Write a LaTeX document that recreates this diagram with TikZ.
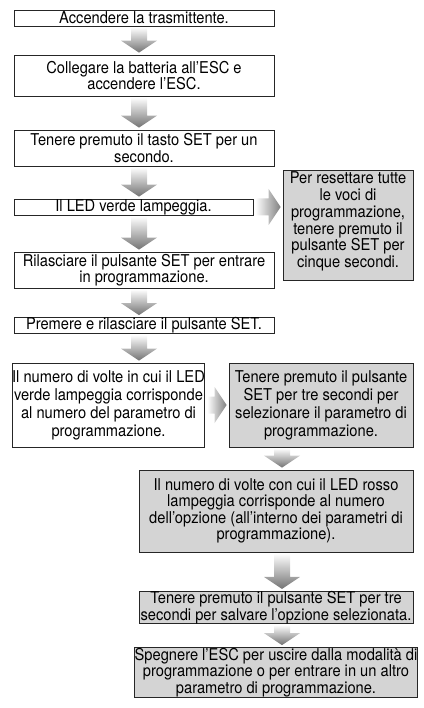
\documentclass[tikz,border=0pt]{standalone}
\usepackage{fontspec}
\setmainfont{TeX Gyre Heros}[FakeStretch=0.9]
\usetikzlibrary{calc}
\newcommand\vflow[3]{%
 \shade[top color=white,bottom color=black!55] let \p1=(#2.south), \p2=(#3.north) in
 ({#1pt-8pt},{\y1-1pt}) -- ({#1pt+8pt},{\y1-1pt}) -- ({#1pt+8pt},{\y2+14pt}) -- ({#1pt+18pt},{\y2+14pt}) -- ({#1pt},{\y2+2pt}) -- ({#1pt-18pt},{\y2+14pt}) -- ({#1pt-8pt},{\y2+14pt}) -- cycle;}
\newcommand\hflow[2]{%
 \shade[left color=white,right color=black!50] let \p1=(#1.east), \p2=(#2.west) in
 ({\x1+2pt},{\y1+8.5pt}) -- ({\x1+2pt},{\y1-8.5pt}) -- ({\x2-14pt},{\y1-8.5pt}) -- ({\x2-14pt},{\y1-18pt}) -- ({\x2-2pt},{\y1}) -- ({\x2-14pt},{\y1+18pt}) -- ({\x2-14pt},{\y1+8.5pt}) -- cycle;}
\begin{document}
\begin{tikzpicture}[x=1pt,y=-1pt,
 txt/.style={inner sep=0pt, align=center, font=\fontsize{16.3pt}{16.5pt}\selectfont},
 box/.style={txt, draw=black!85, line width=0.8pt, fill=white},
 gbox/.style={box, fill=black!17},
 tall/.style={font=\fontsize{16.3pt}{18pt}\selectfont}]
\useasboundingbox (0,0) rectangle (423,708);
\node[box, minimum width=260pt, minimum height=16pt] (b1) at (144,18) {Accendere la trasmittente.};
\node[box, minimum width=260pt, minimum height=41pt] (b2) at (144,75.5) {Collegare la batteria all’ESC e\\ accendere l’ESC.};
\node[box, minimum width=260pt, minimum height=36pt] (b3) at (144,148) {Tenere premuto il tasto SET per un\\ secondo.};
\node[box, minimum width=239pt, minimum height=16pt] (b4) at (133.5,207) {Il LED verde lampeggia.};
\node[gbox, minimum width=130pt, minimum height=110pt] (side) at (348,225) {};
\node[txt, font=\fontsize{16.3pt}{16.8pt}\selectfont] (sidetext) at (348,221.5) {Per resettare tutte\\ le voci di\\ programmazione,\\ tenere premuto il\\ pulsante SET per\\ cinque secondi.};
\node[box, minimum width=260pt, minimum height=36pt] (b5) at (144,270) {Rilasciare il pulsante SET per entrare\\ in programmazione.};
\node[box, minimum width=260pt, minimum height=16pt] (b6) at (144,325.5) {Premere e rilasciare il pulsante SET.};
\node[box, tall, minimum width=189pt, minimum height=84pt] (b7) at (108.5,405) {Il numero di volte in cui il LED\\ verde lampeggia corrisponde\\ al numero del parametro di\\ programmazione.};
\node[gbox, tall, minimum width=184pt, minimum height=84pt] (b8) at (321,405) {Tenere premuto il pulsante\\ SET per tre secondi per\\ selezionare il parametro di\\ programmazione.};
\node[gbox, minimum width=274pt, minimum height=82pt] (b9) at (276,511) {Il numero di volte con cui il LED rosso\\ lampeggia corrisponde al numero\\ dell’opzione (all’interno dei parametri di\\ programmazione).};
\node[gbox, minimum width=274pt, minimum height=32pt] (b10) at (276,607.5) {Tenere premuto il pulsante SET per tre\\ secondi per salvare l’opzione selezionata.};
\node[gbox, minimum width=274pt, minimum height=50pt] (b11) at (276,672.5) {Spegnere l’ESC per uscire dalla modalità di\\ programmazione o per entrare in un altro\\ parametro di programmazione.};
\vflow{139}{b1}{b2}
\vflow{139}{b2}{b3}
\vflow{139}{b3}{b4}
\vflow{139}{b4}{b5}
\vflow{139}{b5}{b6}
\vflow{139}{b6}{b7}
\hflow{b4}{side}
\hflow{b7}{b8}
\vflow{282}{b8}{b9}
\vflow{282}{b9}{b10}
\vflow{282}{b10}{b11}
\end{tikzpicture}
\end{document}
